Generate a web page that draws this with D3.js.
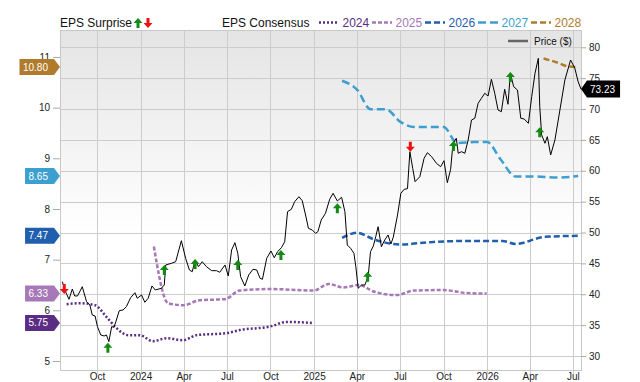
<!DOCTYPE html>
<html><head><meta charset="utf-8">
<script src="https://cdn.jsdelivr.net/npm/d3@7"></script>
<style>
body{margin:0;background:#fff;}
text{font-family:"Liberation Sans",Arial,sans-serif;}
</style>
</head><body>
<svg id="c" width="640" height="382"></svg>
<script>
// ---------- DATA ----------
const priceDates = ["2023-07-20","2023-07-25","2023-08-03","2023-08-10","2023-08-15","2023-08-21","2023-08-31","2023-09-09","2023-09-16","2023-09-21","2023-09-27","2023-10-02","2023-10-09","2023-10-16","2023-10-21","2023-10-26","2023-11-01","2023-11-06","2023-11-11","2023-11-17","2023-11-25","2023-12-02","2023-12-11","2023-12-20","2023-12-25","2024-01-03","2024-01-10","2024-01-17","2024-01-25","2024-02-01","2024-02-14","2024-02-20","2024-02-23","2024-03-06","2024-03-15","2024-03-27","2024-04-05","2024-04-13","2024-04-19","2024-04-25","2024-05-02","2024-05-10","2024-05-19","2024-05-30","2024-06-09","2024-06-16","2024-06-27","2024-07-04","2024-07-11","2024-07-18","2024-07-24","2024-07-30","2024-08-08","2024-08-16","2024-08-25","2024-09-02","2024-09-09","2024-09-14","2024-09-23","2024-10-02","2024-10-09","2024-10-16","2024-10-24","2024-10-31","2024-11-06","2024-11-14","2024-11-21","2024-11-30","2024-12-07","2024-12-14","2024-12-20","2024-12-28","2025-01-04","2025-01-09","2025-01-16","2025-01-25","2025-02-03","2025-02-10","2025-02-19","2025-02-28","2025-03-07","2025-03-12","2025-03-19","2025-03-26","2025-03-30","2025-04-04","2025-04-11","2025-04-18","2025-04-25","2025-04-30","2025-05-06","2025-05-11","2025-05-16","2025-05-23","2025-05-30","2025-06-06","2025-06-12","2025-06-17","2025-06-26","2025-07-03","2025-07-10","2025-07-17","2025-07-22","2025-07-28","2025-08-02","2025-08-12","2025-08-21","2025-08-28","2025-09-06","2025-09-16","2025-09-25","2025-10-02","2025-10-09","2025-10-16","2025-10-21","2025-10-28","2025-11-01","2025-11-08","2025-11-15","2025-11-22","2025-11-29","2025-12-06","2025-12-13","2025-12-20","2025-12-27","2026-01-03","2026-01-10","2026-01-17","2026-01-24","2026-01-31","2026-02-07","2026-02-14","2026-02-19","2026-02-26","2026-03-06","2026-03-13","2026-03-20","2026-03-29","2026-04-05","2026-04-12","2026-04-19","2026-04-22","2026-04-26","2026-05-03","2026-05-08","2026-05-15","2026-05-24","2026-05-31","2026-06-07","2026-06-14","2026-06-26","2026-07-05","2026-07-12","2026-07-18"];
const priceValues = [42.03,40.69,39.18,40.85,39.72,39.72,41.22,38.80,38.26,36.64,36.48,34.75,33.40,33.24,33.40,32.32,34.75,34.65,35.83,37.34,37.45,37.99,39.44,40.25,39.35,39.88,38.70,39.35,41.34,40.69,40.97,41.50,44.74,45.01,45.27,48.67,45.82,43.93,43.65,45.55,44.46,45.27,44.46,43.82,43.82,43.56,44.74,42.96,47.17,48.35,46.63,42.84,41.34,43.12,44.04,43.93,42.58,42.42,45.82,47.01,45.92,46.89,47.54,48.51,53.37,53.76,54.99,55.80,55.15,52.84,50.68,50.41,49.87,50.13,52.03,53.11,55.40,56.35,55.11,55.70,53.37,47.98,47.44,46.63,44.46,40.97,41.50,41.50,42.84,46.89,47.82,49.32,50.94,47.70,48.79,49.60,48.14,49.23,52.84,56.35,57.00,57.10,63.09,60.40,58.23,59.04,62.02,62.93,62.28,61.21,60.66,61.63,58.07,60.24,64.45,65.26,62.83,63.09,62.83,64.99,68.22,68.50,70.93,71.74,72.55,72.11,74.82,72.55,69.84,69.57,73.20,70.77,75.79,73.62,73.08,68.50,68.39,67.69,72.00,75.79,78.22,70.38,65.80,64.45,65.52,62.56,64.99,68.22,71.46,74.70,77.94,76.60,74.43,73.23];

const cons2024 = [["2023-07-29",6.12],["2023-08-26",6.14],["2023-09-27",6.10],["2023-10-21",5.87],["2023-11-11",5.65],["2023-12-06",5.51],["2023-12-30",5.51],["2024-01-27",5.39],["2024-02-25",5.45],["2024-03-31",5.41],["2024-04-28",5.51],["2024-06-30",5.55],["2024-07-28",5.61],["2024-09-30",5.68],["2024-11-04",5.77],["2024-12-31",5.75]];
const cons2025 = [["2024-01-29",7.26],["2024-02-28",6.14],["2024-03-31",6.10],["2024-05-05",6.20],["2024-06-27",6.22],["2024-07-28",6.39],["2024-09-30",6.42],["2024-12-31",6.39],["2025-02-01",6.52],["2025-03-04",6.45],["2025-04-05",6.50],["2025-05-07",6.37],["2025-06-25",6.30],["2025-07-30",6.39],["2025-10-01",6.40],["2025-11-19",6.34],["2025-12-31",6.33]];
const cons2026 = [["2025-03-01",7.43],["2025-04-02",7.53],["2025-05-07",7.40],["2025-07-02",7.30],["2025-09-10",7.35],["2025-12-04",7.37],["2026-02-02",7.37],["2026-03-02",7.31],["2026-05-03",7.45],["2026-07-12",7.47]];
const cons2027 = [["2025-03-01",10.53],["2025-04-02",10.35],["2025-04-30",9.97],["2025-06-01",9.97],["2025-07-02",9.72],["2025-07-31",9.62],["2025-10-01",9.62],["2025-10-30",9.30],["2025-12-04",9.32],["2026-01-01",9.32],["2026-01-30",8.97],["2026-03-02",8.64],["2026-04-09",8.64],["2026-06-01",8.62],["2026-07-12",8.65]];
const cons2028 = [["2026-04-30",10.97],["2026-06-01",10.88],["2026-06-18",10.82],["2026-07-12",10.80]];

const seriesNames = ["2024","2025","2026","2027","2028"];
const seriesColors = ["#5b2c83","#a678b8","#1f5fae","#3c9fd0","#b07b2a"];

const surpriseDates = ["2023-07-24","2023-10-24","2024-02-20","2024-04-25","2024-07-24","2024-10-23","2025-02-19","2025-04-24","2025-07-23","2025-10-22","2026-02-19","2026-04-22"];
const surprisePrices = [40.04,32.15,44.74,45.71,45.55,47.17,54.73,43.65,63.09,64.82,76.0,67.04];
const surpriseDirs = ["down","up","up","up","up","up","up","up","down","up","up","up"];

const priceTicks = [30,35,40,45,50,55,60,65,70,75,80];
const epsTicks = [5,6,7,8,9,10,11];

// ---------- CHART ----------
const parse = d3.utcParse("%Y-%m-%d");
const L = 60, R = 581, T = 30, B = 370;
const svg = d3.select("#c");

const x = d3.scaleUtc().domain([parse("2023-07-15"), parse("2026-07-18")]).range([L, R]);
const yP = d3.scaleLinear().domain([27.73, 82.8]).range([B, T]);
const yE = d3.scaleLinear().domain([4.822, 11.532]).range([B, T]);

const defs = svg.append("defs");
const grad = defs.append("linearGradient").attr("id","bg").attr("x1",0).attr("y1",0).attr("x2",0).attr("y2",1);
grad.append("stop").attr("offset","0%").attr("stop-color","#e4e4e4");
grad.append("stop").attr("offset","60%").attr("stop-color","#ffffff");
svg.append("rect").attr("x",L).attr("y",T).attr("width",R-L).attr("height",B-T).attr("fill","url(#bg)");

// grid
const quarterTicks = d3.utcMonth.every(3).range(parse("2023-10-01"), parse("2026-07-02"));
const grid = svg.append("g").attr("stroke","#cccccc").attr("stroke-width",1).attr("shape-rendering","crispEdges");
grid.selectAll(".h").data(priceTicks).join("line")
  .attr("x1",L).attr("x2",R).attr("y1",d=>Math.round(yP(d))+0.5).attr("y2",d=>Math.round(yP(d))+0.5);
grid.selectAll(".v").data(quarterTicks).join("line")
  .attr("y1",T).attr("y2",B+4).attr("x1",d=>Math.round(x(d))+0.5).attr("x2",d=>Math.round(x(d))+0.5);
svg.append("rect").attr("x",L+0.5).attr("y",T+0.5).attr("width",R-L).attr("height",B-T)
  .attr("fill","none").attr("stroke","#c8c8c8").attr("shape-rendering","crispEdges");

// consensus lines
const consData = [cons2024, cons2025, cons2026, cons2027, cons2028];
const dashes = ["2,2","4,2","6,3","8,4","6,3"];
const cLine = d3.line().x(d=>x(parse(d[0]))).y(d=>yE(d[1])).curve(d3.curveMonotoneX);
consData.forEach((s,i)=>{
  svg.append("path").attr("d",cLine(s)).attr("fill","none")
    .attr("stroke",seriesColors[i]).attr("stroke-width",2.5).attr("stroke-dasharray",dashes[i]);
});

// price line
const pData = priceDates.map((d,i)=>[parse(d), priceValues[i]]);
svg.append("path").attr("d", d3.line().x(d=>x(d[0])).y(d=>yP(d[1]))(pData))
  .attr("fill","none").attr("stroke","#000").attr("stroke-width",1);

// surprise arrows
const upArrow = "M0,0 L4.5,5 L1.5,5 L1.5,10 L-1.5,10 L-1.5,5 L-4.5,5 Z";
const downArrow = "M0,0 L4.5,-5 L1.5,-5 L1.5,-10 L-1.5,-10 L-1.5,-5 L-4.5,-5 Z";
surpriseDates.forEach((d,i)=>{
  const up = surpriseDirs[i]==="up";
  svg.append("path").attr("d", up?upArrow:downArrow)
    .attr("transform",`translate(${x(parse(d))},${yP(surprisePrices[i])})`)
    .attr("fill", up?"#138a13":"#ee1111");
});

// axes
const axL = svg.append("g").attr("transform",`translate(${L},0)`)
  .call(d3.axisLeft(yE).tickValues(epsTicks).tickSize(7).tickPadding(3).tickFormat(d3.format("d")));
const axR = svg.append("g").attr("transform",`translate(${R},0)`)
  .call(d3.axisRight(yP).tickValues(priceTicks).tickSize(5).tickPadding(3));
const axB = svg.append("g").attr("transform",`translate(0,${B})`)
  .call(d3.axisBottom(x).tickValues(quarterTicks).tickSize(0).tickPadding(3)
    .tickFormat(d=>d.getUTCMonth()===0 ? d3.utcFormat("%Y")(d) : d3.utcFormat("%b")(d)));
[axL,axR,axB].forEach(a=>{
  a.select(".domain").remove();
  a.selectAll(".tick line").attr("stroke","#aaaaaa");
  a.selectAll("text").attr("font-size",10).attr("fill","#222").attr("font-family","Liberation Sans, Arial, sans-serif");
});

// left tags (last consensus values)
consData.forEach((s,i)=>{
  const v = s[s.length-1][1];
  const y = yE(v);
  const g = svg.append("g");
  const t = g.append("text").attr("x",48).attr("y",y).attr("dy","0.35em").attr("text-anchor","end")
    .attr("font-size",10).attr("fill","#fff").text(v.toFixed(2));
  const w = t.node().getComputedTextLength();
  const x0 = 48 - w - 3.5, h = 8;
  g.insert("path","text").attr("d",`M${x0},${y-h} L54,${y-h} L60,${y} L54,${y+h} L${x0},${y+h} Z`).attr("fill",seriesColors[i]);
});

// right price tag
{
  const v = priceValues[priceValues.length-1];
  const y = yP(v);
  const g = svg.append("g");
  const t = g.append("text").attr("x",590).attr("y",y).attr("dy","0.35em").attr("font-size",10).attr("fill","#fff").text(v.toFixed(2));
  const w = t.node().getComputedTextLength();
  g.insert("path","text").attr("d",`M${R},${y} L587,${y-8.5} L${590+w+5},${y-8.5} L${590+w+5},${y+8.5} L587,${y+8.5} Z`).attr("fill","#000");
}

// header legend
const hdr = svg.append("g");
hdr.append("text").attr("x",60).attr("y",27).attr("font-size",12).attr("fill","#111").text("EPS Surprise");
hdr.append("path").attr("d",upArrow).attr("transform","translate(138,18)").attr("fill","#138a13");
hdr.append("path").attr("d",downArrow).attr("transform","translate(148,28)").attr("fill","#ee1111");
hdr.append("text").attr("x",222).attr("y",27).attr("font-size",12).attr("fill","#111").text("EPS Consensus");
const legX = [319,372,425,478,531];
seriesNames.forEach((n,i)=>{
  hdr.append("line").attr("x1",legX[i]).attr("x2",legX[i]+20).attr("y1",22.5).attr("y2",22.5)
    .attr("stroke",seriesColors[i]).attr("stroke-width",2.5).attr("stroke-dasharray",dashes[i]);
  hdr.append("text").attr("x",legX[i]+23.5).attr("y",27).attr("font-size",12).attr("fill",seriesColors[i]).text(n);
});
hdr.append("line").attr("x1",508).attr("x2",528).attr("y1",41).attr("y2",41).attr("stroke","#666").attr("stroke-width",2.5);
hdr.append("text").attr("x",534).attr("y",45).attr("font-size",10).attr("fill","#111").text("Price ($)");
</script>
</body></html>
